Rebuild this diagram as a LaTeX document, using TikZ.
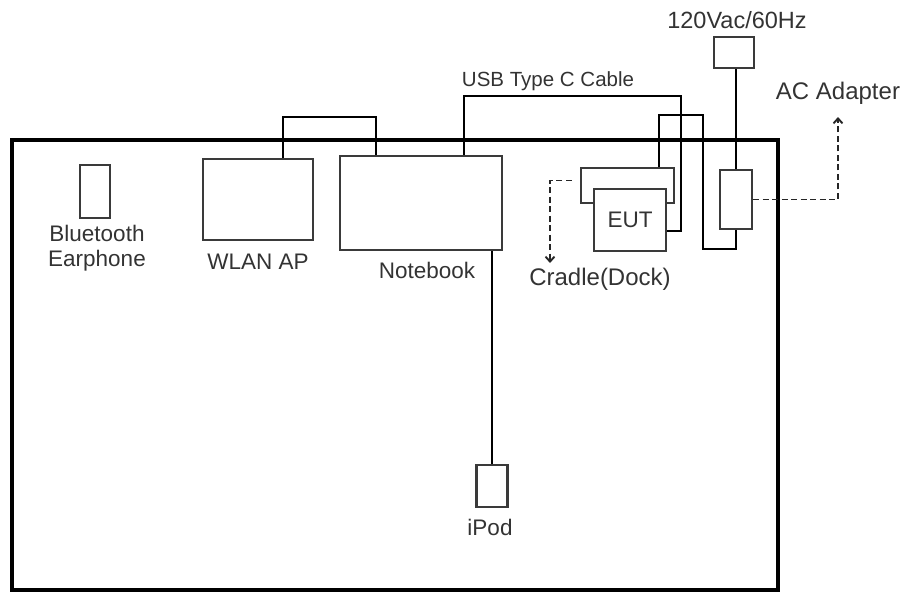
\documentclass[tikz,border=0pt]{standalone}
\usepackage{fontspec}
\setmainfont{Liberation Sans}
\usetikzlibrary{arrows.meta, positioning, calc}
\definecolor{boxgray}{HTML}{3A3A3A}
\definecolor{textgray}{HTML}{333333}

\begin{document}
\begin{tikzpicture}[x=1pt, y=-1pt, >={Straight Barb[length=5pt, width=9pt]},
    devbox/.style={draw=boxgray, line width=2.3pt, fill=white, inner sep=0pt},
    cable/.style={draw=black, line width=1.8pt},
    dashline/.style={draw=black!85, line width=1.9pt, dash pattern=on 6pt off 3.5pt},
    lbl/.style={text=textgray, inner sep=0pt, font=\fontsize{22.5}{25}\selectfont}]
      \useasboundingbox (0,0) rectangle (908,594);

      % test room
      \draw[line width=4.5pt] (12,140) rectangle (778,590);

      \node[devbox, minimum width=30pt, minimum height=53pt] (earphone) at (95,191.5) {};
      \node[devbox, minimum width=110pt, minimum height=81pt] (wlan) at (258,199.5) {};
      \node[devbox, minimum width=162pt, minimum height=94pt] (notebook) at (421,203) {};
      \node[devbox, minimum width=93pt, minimum height=35pt] (cradle) at (627.5,185.5) {};
      \node[devbox, minimum width=72pt, minimum height=62pt, lbl] (eut) at (630,220) {EUT};
      \node[devbox, minimum width=32pt, minimum height=59pt] (adapter) at (736,199.5) {};
      \node[devbox, minimum width=40pt, minimum height=31pt] (plug) at (734,52.5) {};
      \node[devbox, minimum width=31pt, minimum height=42pt] (ipod) at (492,486) {};

      \node[lbl, align=center] (earlabel) at (97,248) {Bluetooth\\Earphone};
      \node[lbl] (wlanlabel) at (258,262) {WLAN AP};
      \node[lbl] (nblabel) at (427,270) {Notebook};
      \node[lbl, font=\fontsize{24}{26}\selectfont] (docklabel) at (600,279) {Cradle(Dock)};
      \node[lbl] (ipodlabel) at (490,527) {iPod};
      \node[lbl, font=\fontsize{20.5}{24}\selectfont] (usblabel) at (548,81) {USB Type C Cable};
      \node[lbl, font=\fontsize{23.5}{26}\selectfont] (mainslabel) at (737,20) {120Vac/60Hz};
      \node[lbl, font=\fontsize{24}{26}\selectfont] (aclabel) at (838,93) {AC Adapter};

      \coordinate (usbturn) at (681,96);
      \coordinate (dockturn) at (703,115);
      \coordinate (dockbot) at (703,249);
      \coordinate (acup) at (838,117);
      \coordinate (dockdown) at (550,263);

      % cables
      \draw[cable] ([xshift=25pt]wlan.north) -- ++(0,-41) -| ([xshift=-45pt]notebook.north);
      \draw[cable] ([xshift=43pt]notebook.north) |- (usbturn) |- ([yshift=-11pt]eut.east);
      \draw[cable] ([xshift=31.5pt]cradle.north) |- (dockturn) -- (dockbot) -| (adapter.south);
      \draw[cable] (adapter.north) -- (adapter.north |- plug.south);
      \draw[cable] (ipod.north) -- (ipod.north |- notebook.south);

      \draw[dashline, ->] (adapter.east) -| (acup);
      \draw[dashline, ->, shorten <=8pt] ([yshift=5pt]cradle.west) -| (dockdown);
    \end{tikzpicture}
\end{document}
